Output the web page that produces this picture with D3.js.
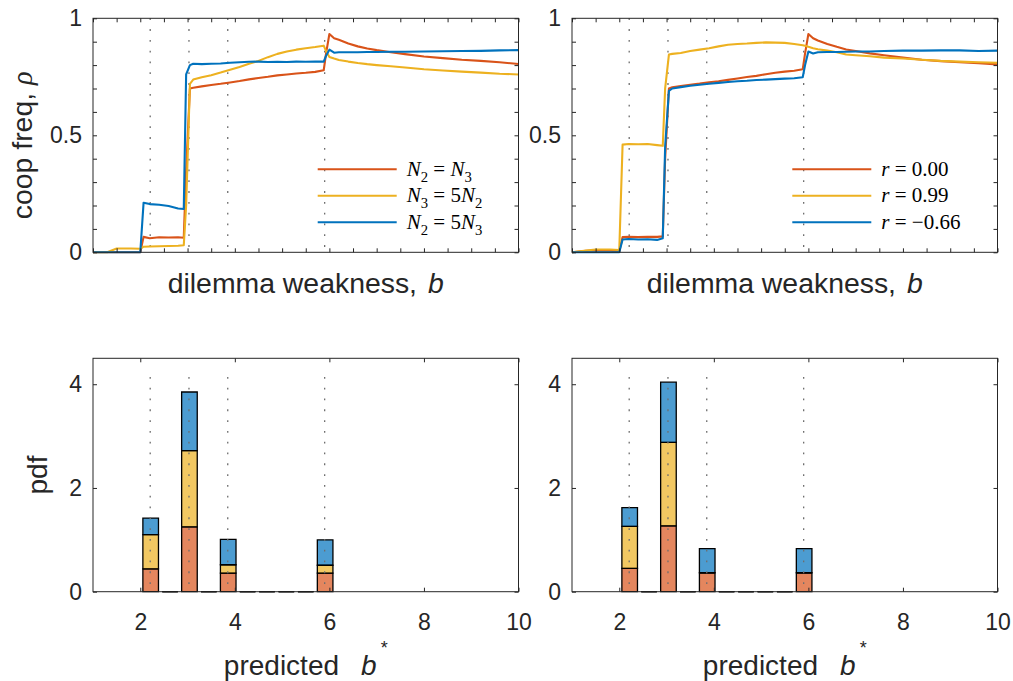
<!DOCTYPE html>
<html><head><meta charset="utf-8">
<script src="https://cdn.jsdelivr.net/npm/d3@7"></script>
<style>
body{margin:0;background:#fff}
svg{display:block}
text{font-family:"Liberation Sans",Arial,Helvetica,sans-serif;fill:#262626;white-space:pre}
</style></head><body>
<svg id="chart" width="1013" height="681"></svg>
<script>
// ---------------- data ----------------
const bGrid = [1.0,1.3,1.5,1.8,2.0,2.07,2.2,2.4,2.6,2.8,2.92,2.97,3.05,3.12,3.3,3.5,3.7,3.9,4.1,4.3,4.5,4.7,4.9,5.1,5.3,5.5,5.7,5.88,5.93,6.0,6.1,6.2,6.4,6.6,6.8,7.0,7.3,7.6,8.0,8.4,8.8,9.2,9.6,10.0];

const leftOrange = [0,0,0,0,0, 0.066,0.060,0.064,0.063,0.064,0.062, 0.35,0.700,0.703,0.709,0.715,0.720,0.726,0.732,0.739,0.745, 0.750,0.756,0.760,0.764,0.767,0.771,0.778, 0.850,0.933,0.915,0.908,0.892,0.880,0.871,0.864, 0.855,0.847,0.837,0.830,0.823,0.818,0.812,0.805];
const leftYellow = [0,0,0.016,0.016,0.015, 0.024,0.025,0.026,0.027,0.028,0.030, 0.20,0.720,0.738,0.748,0.757,0.768,0.780,0.792,0.806,0.818, 0.834,0.848,0.858,0.866,0.872,0.877,0.883, 0.860,0.835,0.828,0.822,0.815,0.809,0.804,0.800, 0.795,0.790,0.782,0.777,0.772,0.768,0.763,0.760];
const leftBlue = [0,0,0,0,0, 0.212,0.206,0.203,0.198,0.187,0.185, 0.76,0.800,0.806,0.804,0.806,0.807,0.810,0.812,0.814,0.815, 0.813,0.814,0.813,0.815,0.814,0.815,0.815, 0.840,0.866,0.853,0.855,0.855,0.855,0.856,0.856, 0.857,0.857,0.858,0.859,0.860,0.861,0.863,0.864];

const rightOrange = [0,0.006,0.008,0.007,0.004, 0.065,0.066,0.065,0.066,0.066,0.068, 0.40,0.700,0.705,0.710,0.716,0.721,0.727,0.731,0.737,0.743, 0.749,0.754,0.761,0.767,0.772,0.776,0.782, 0.850,0.933,0.915,0.905,0.890,0.878,0.867,0.860, 0.850,0.842,0.832,0.823,0.817,0.812,0.808,0.803];
const rightYellow = [0,0.008,0.012,0.012,0.010, 0.460,0.463,0.462,0.463,0.458,0.455, 0.70,0.845,0.848,0.852,0.860,0.866,0.872,0.880,0.887,0.890, 0.892,0.895,0.897,0.896,0.895,0.890,0.885, 0.883,0.878,0.872,0.868,0.862,0.855,0.845,0.842, 0.838,0.832,0.828,0.823,0.818,0.815,0.812,0.810];
const rightBlue = [0,0,0,0,0, 0.055,0.057,0.055,0.056,0.053,0.060, 0.45,0.690,0.700,0.706,0.712,0.716,0.720,0.724,0.728,0.731, 0.733,0.736,0.738,0.740,0.742,0.744,0.748, 0.800,0.858,0.850,0.855,0.856,0.856,0.857,0.858, 0.858,0.860,0.862,0.862,0.863,0.863,0.860,0.862];

const predictedB = [2.21, 3.03, 3.85, 5.9];

const binCenters = [2.22,2.63,3.04,3.45,3.86,4.27,4.68,5.09,5.50,5.91];
const binBarWidth = 0.33;
const pdfLeftOrange  = [0.44,0,1.25,0,0.36,0,0,0,0,0.36];
const pdfLeftYellow  = [0.66,0,1.47,0,0.16,0,0,0,0,0.15];
const pdfLeftBlue    = [0.32,0,1.13,0,0.49,0,0,0,0,0.49];
const pdfRightOrange = [0.45,0,1.27,0,0.365,0,0,0,0,0.365];
const pdfRightYellow = [0.81,0,1.61,0,0,0,0,0,0,0];
const pdfRightBlue   = [0.36,0,1.16,0,0.465,0,0,0,0,0.465];

const topXTicks = [1,1.5,2,2.5,3,3.5,4,4.5,5,5.5,6,6.5,7,7.5,8,8.5,9,9.5,10];
const topYTicks = [0,0.1,0.2,0.3,0.4,0.5,0.6,0.7,0.8,0.9,1];
const topYTickLabels = ["0","","","","","0.5","","","","","1"];
const bottomXTicks = [2,4,6,8,10];
const bottomXTickLabels = ["2","4","6","8","10"];
const bottomYTicks = [0,2,4];
const bottomYTickLabels = ["0","2","4"];

const legendLeft  = ["N_2 = N_3","N_3 = 5N_2","N_2 = 5N_3"];
const legendRight = ["r = 0.00","r = 0.99","r = \u22120.66"];

const colors = ["#D95319","#EDB120","#0072BD"];
const axisColor = "#262626";

// ---------------- layout ----------------
const svg = d3.select("#chart");
const panels = {
  tl:{x0:93, y0:18.3, w:425.5, h:234},
  tr:{x0:572, y0:18.3, w:425.5, h:234},
  bl:{x0:93, y0:358.3, w:425.5, h:233.4},
  br:{x0:572, y0:358.3, w:425.5, h:233.4}
};
const TICK_FS = 23, LABEL_FS = 28.4, LEG_FS = 21;

function styleAxis(s){
  s.select(".domain").remove();
  s.attr("font-family",null).attr("font-size",null);
  s.selectAll("line").attr("stroke",axisColor).attr("stroke-width",1);
  s.selectAll("text").attr("fill",axisColor).style("font-size",TICK_FS+"px");
}
function drawAxes(g, x, y, w, h, xt, xl, yt, yl){
  const tk = 4;
  g.append("g").attr("transform",`translate(0,${h})`)
    .call(d3.axisBottom(x).tickValues(xt).tickSize(-tk).tickSizeOuter(0).tickPadding(21.5).tickFormat((d,i)=>xl?xl[i]:""))
    .call(styleAxis);
  g.append("g").call(d3.axisTop(x).tickValues(xt).tickSize(-tk).tickSizeOuter(0).tickFormat("")).call(styleAxis);
  g.append("g").call(d3.axisLeft(y).tickValues(yt).tickSize(-tk).tickSizeOuter(0).tickPadding(11).tickFormat((d,i)=>yl[i])).call(styleAxis);
  g.append("g").attr("transform",`translate(${w},0)`).call(d3.axisRight(y).tickValues(yt).tickSize(-tk).tickSizeOuter(0).tickFormat("")).call(styleAxis);
  g.append("rect").attr("width",w).attr("height",h).attr("fill","none").attr("stroke",axisColor).attr("stroke-width",1);
}
function addMath(textSel, str, fs){
  const parts=[];
  for(let i=0;i<str.length;i++){
    const c=str[i];
    if(c==="_"){parts.push({t:str[++i],sub:true});continue;}
    parts.push({t:c,it:/[A-Za-z]/.test(c)});
  }
  let prevSub=false;
  parts.forEach(p=>{
    const ts=textSel.append("tspan").text(p.t);
    if(p.it) ts.attr("font-style","italic");
    if(p.sub && !prevSub) ts.attr("dy",fs*0.28);
    if(!p.sub && prevSub) ts.attr("dy",-fs*0.28);
    if(p.sub) ts.attr("font-size",fs*0.7);
    prevSub=!!p.sub;
  });
}

function linePanel(p, series, legend, legendX, showYLabel){
  const g = svg.append("g").attr("transform",`translate(${p.x0},${p.y0})`);
  const x = d3.scaleLinear().domain([1,10]).range([0,p.w]);
  const y = d3.scaleLinear().domain([0,1]).range([p.h,0]);
  g.selectAll("line.pred").data(predictedB).join("line").attr("class","pred")
    .attr("x1",d=>x(d)).attr("x2",d=>x(d)).attr("y1",y(1)).attr("y2",y(0))
    .attr("stroke","#6e6e6e").attr("stroke-width",1.3).attr("stroke-dasharray","1.8,9");
  const line = d3.line().x((d,i)=>x(bGrid[i])).y(d=>y(d));
  series.forEach((s,k)=>{
    g.append("path").datum(s).attr("d",line).attr("fill","none")
      .attr("stroke",colors[k]).attr("stroke-width",2.1).attr("stroke-linejoin","round");
  });
  drawAxes(g,x,y,p.w,p.h,topXTicks,null,topYTicks,topYTickLabels);
  // legend
  const rows=[151.0,177.4,204.0];
  legend.forEach((lab,k)=>{
    g.append("line").attr("x1",legendX).attr("x2",legendX+79).attr("y1",rows[k]).attr("y2",rows[k])
      .attr("stroke",colors[k]).attr("stroke-width",2.1);
    const t=g.append("text").attr("x",legendX+89).attr("y",rows[k]+6.5)
      .style("font-family","'Liberation Serif','Times New Roman',serif").style("font-size",LEG_FS+"px").style("fill","#000");
    addMath(t,lab,LEG_FS);
  });
  // x label
  const xl=svg.append("text").attr("x",p.x0+p.w/2).attr("y",292.7).attr("text-anchor","middle").style("font-size",LABEL_FS+"px");
  xl.append("tspan").text("dilemma weakness,");
  xl.append("tspan").attr("dx",11).attr("font-style","italic").text("b");
  if(showYLabel){
    const yl=svg.append("text").attr("transform",`translate(32,${p.y0+p.h/2+10}) rotate(-90)`).attr("text-anchor","middle").style("font-size",LABEL_FS+"px");
    yl.append("tspan").text("coop freq, ");
    yl.append("tspan").attr("font-style","italic").style("font-family","'Liberation Serif','DejaVu Serif',serif").text("\u03C1");
  }
}

function barPanel(p, stacks, showYLabel){
  const g = svg.append("g").attr("transform",`translate(${p.x0},${p.y0})`);
  const x = d3.scaleLinear().domain([1,10]).range([0,p.w]);
  const y = d3.scaleLinear().domain([0,4.5]).range([p.h,0]);
  const data = binCenters.map((c,i)=>({c, vals: stacks.map(s=>s[i])}));
  data.forEach(d=>{
    let base=0;
    d.vals.forEach((v,k)=>{
      const x0=x(d.c-binBarWidth/2), x1=x(d.c+binBarWidth/2), yb=y(base), yt=y(base+v);
      g.append("path").attr("d",`M${x0},${yb}H${x1}V${yt}H${x0}Z`)
        .attr("fill",colors[k]).attr("fill-opacity",0.7)
        .attr("stroke","#000").attr("stroke-width",1.3);
      base+=v;
    });
  });
  g.selectAll("line.pred").data(predictedB).join("line").attr("class","pred")
    .attr("x1",d=>x(d)).attr("x2",d=>x(d)).attr("y1",y(4.14)).attr("y2",y(0))
    .attr("stroke","#6e6e6e").attr("stroke-width",1.3).attr("stroke-dasharray","1.8,9");
  drawAxes(g,x,y,p.w,p.h,bottomXTicks,bottomXTickLabels,bottomYTicks,bottomYTickLabels);
  const xl=svg.append("text").attr("x",p.x0+p.w/2).attr("y",675).attr("text-anchor","middle").style("font-size","28px");
  xl.append("tspan").text("predicted");
  xl.append("tspan").attr("dx",22).attr("font-style","italic").text("b");
  xl.append("tspan").attr("dx",4).attr("dy",-21).style("font-size","18px").text("*");
  if(showYLabel){
    svg.append("text").attr("transform",`translate(47,${p.y0+p.h/2}) rotate(-90)`).attr("text-anchor","middle").style("font-size","28px").text("pdf");
  }
}

linePanel(panels.tl,[leftOrange,leftYellow,leftBlue],legendLeft,224.7,true);
linePanel(panels.tr,[rightOrange,rightYellow,rightBlue],legendRight,220.3,false);
barPanel(panels.bl,[pdfLeftOrange,pdfLeftYellow,pdfLeftBlue],true);
barPanel(panels.br,[pdfRightOrange,pdfRightYellow,pdfRightBlue],false);
</script>
</body></html>
